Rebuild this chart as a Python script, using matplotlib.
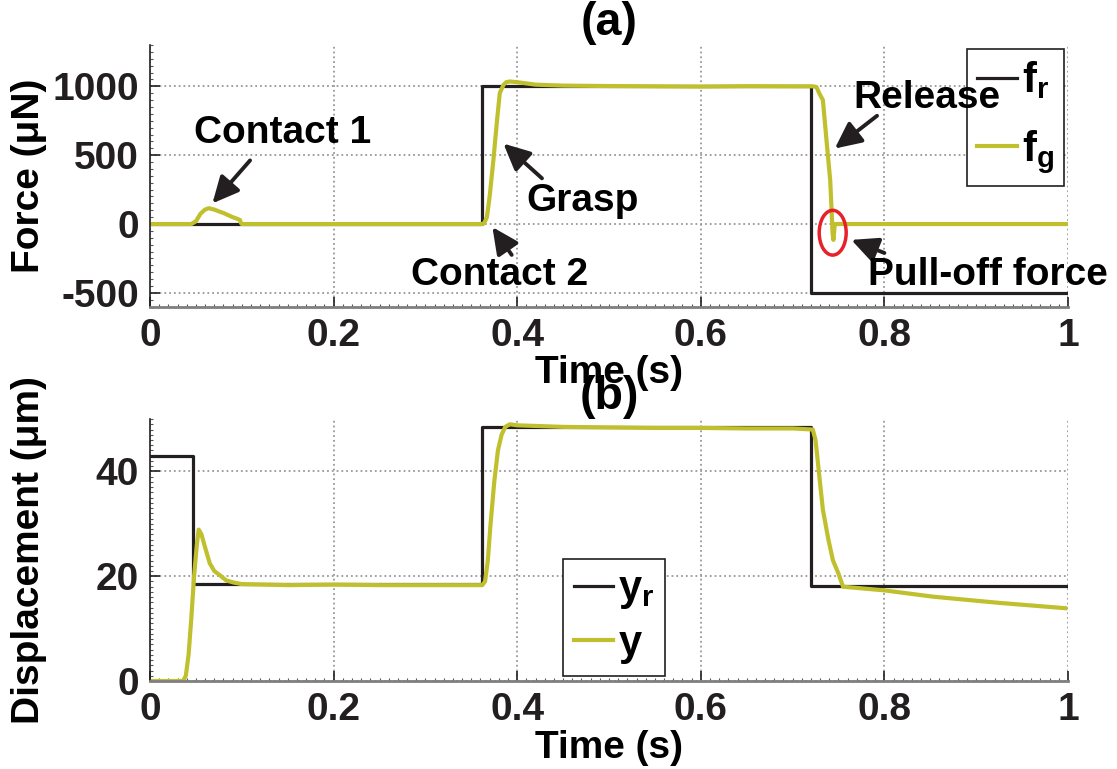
import matplotlib
matplotlib.use('Agg')
import matplotlib.pyplot as plt
from matplotlib.ticker import MultipleLocator
from matplotlib.patches import Ellipse

plt.rcParams['font.family'] = ['Liberation Sans', 'DejaVu Sans']
plt.rcParams['font.weight'] = 'bold'
plt.rcParams['axes.labelweight'] = 'bold'
plt.rcParams['axes.titleweight'] = 'bold'
plt.rcParams['font.size'] = 28
plt.rcParams['axes.unicode_minus'] = False
plt.rcParams['mathtext.fontset'] = 'custom'
plt.rcParams['mathtext.rm'] = 'Liberation Sans:bold'
plt.rcParams['mathtext.bf'] = 'Liberation Sans:bold'
plt.rcParams['mathtext.it'] = 'Liberation Sans:bold'

# (a) force: reference f_r and measured f_g
fr_t = [0, 0.05, 0.05, 0.1, 0.1, 0.362, 0.362, 0.72, 0.72, 1.0]
fr = [0, 0, 0, 0, 0, 0, 1000, 1000, -500, -500]

fg_t = [0, 0.045, 0.05, 0.055, 0.06, 0.064, 0.07, 0.075, 0.08, 0.085, 0.09, 0.095,
        0.098, 0.099, 0.1, 0.362, 0.364, 0.367, 0.370, 0.374, 0.378, 0.381, 0.385,
        0.388, 0.392, 0.40, 0.42, 0.45, 0.5, 0.55, 0.6, 0.65, 0.7, 0.722, 0.726,
        0.729, 0.733, 0.737, 0.741, 0.7425, 0.7435, 0.7445, 0.746, 1.0]
fg = [0, 0, 20, 75, 105, 115, 105, 92, 80, 65, 50, 38,
      29, 8, 0, 0, 5, 50, 200, 460, 750, 950, 1010,
      1030, 1035, 1030, 1012, 1005, 1002, 1000, 998, 1001, 1000, 1000, 995,
      950, 900, 605, 317, 100, -60, -115, 0, 0]

# (b) displacement: reference y_r and measured y
yr_t = [0, 0.047, 0.047, 0.362, 0.362, 0.72, 0.72, 1.0]
yr = [43, 43, 18.5, 18.5, 48.5, 48.5, 18.2, 18.2]

y_t = [0, 0.036, 0.039, 0.042, 0.045, 0.048, 0.051, 0.053, 0.056, 0.06, 0.065,
       0.07, 0.076, 0.083, 0.091, 0.1, 0.15, 0.2, 0.25, 0.3, 0.362, 0.365, 0.368,
       0.371, 0.375, 0.379, 0.383, 0.387, 0.392, 0.40, 0.45, 0.5, 0.55, 0.6, 0.65,
       0.7, 0.722, 0.725, 0.728, 0.733, 0.739, 0.744, 0.75, 0.755, 0.8, 0.853,
       0.926, 0.997]
y = [0, 0, 1, 5, 12, 20, 26, 28.9, 28, 25.5, 22.5,
     21, 20.2, 19.2, 18.8, 18.5, 18.3, 18.4, 18.3, 18.3, 18.3, 19, 23,
     30, 38, 44, 47, 48.5, 49, 48.8, 48.5, 48.4, 48.3, 48.3, 48.2,
     48.2, 48, 46, 41, 32.7, 27, 23, 20.5, 18, 17.3, 16.1,
     14.9, 13.9]

# annotation texts: (label, text centre, arrow tail, arrow tip)
notes = [
    ('Contact 1', (0.145, 664), (0.109, 462), (0.068, 150)),
    ('Grasp', (0.471, 166), (0.427, 332), (0.385, 584)),
    ('Contact 2', (0.381, -368), (0.394, -224), (0.373, -22)),
    ('Release', (0.846, 916), (0.792, 786), (0.746, 548)),
    ('Pull-off force', (0.913, -368), (0.80, -210), (0.764, -115)),
]

black = '#231f20'
yellow = '#c0c02e'

fig = plt.figure(figsize=(11.17, 7.69), dpi=100)
ax1 = fig.add_axes([0.1343, 0.6012, 0.8218, 0.3403])
ax2 = fig.add_axes([0.1343, 0.1144, 0.8218, 0.3407])


def style(ax):
    for s in ['top', 'right']:
        ax.spines[s].set_visible(False)
    ax.spines['left'].set_color(black)
    ax.spines['left'].set_linewidth(1.2)
    ax.spines['bottom'].set_color('#7f7f7f')
    ax.spines['bottom'].set_linewidth(2)
    ax.grid(True, which='major', linestyle=':', color='#999999', linewidth=1.3)
    ax.tick_params(which='major', direction='in', length=7, width=1.2, pad=8, colors=black)
    ax.tick_params(which='minor', direction='in', length=2.5, width=0.8, colors='#555555')
    ax.set_xlim(0, 1)
    ax.set_xticks([0, 0.2, 0.4, 0.6, 0.8, 1])
    ax.set_xticklabels(['0', '0.2', '0.4', '0.6', '0.8', '1'])
    ax.xaxis.set_minor_locator(MultipleLocator(0.01))
    ax.set_xlabel('Time (s)', labelpad=1)


def legend(ax, spacing, **kw):
    leg = ax.legend(fancybox=False, edgecolor=black, handlelength=0.95, handletextpad=0.12,
                    labelspacing=spacing, borderpad=0.25, borderaxespad=0, fontsize=30,
                    framealpha=1, **kw)
    leg.get_frame().set_linewidth(1.2)
    leg.set_zorder(2)
    return leg


# top panel
ax1.plot(fr_t, fr, color=black, lw=2.3, label=r'$\mathregular{f_r}$')
ax1.plot(fg_t, fg, color=yellow, lw=3, label=r'$\mathregular{f_g}$')
style(ax1)
ax1.set_ylim(-600, 1300)
ax1.set_yticks([-500, 0, 500, 1000])
ax1.yaxis.set_minor_locator(MultipleLocator(50))
ax1.set_ylabel('Force (μN)')
ax1.yaxis.set_label_coords(-0.112, 0.5)
ax1.set_title('(a)', pad=6)
legend(ax1, 0.65, loc='upper right', bbox_to_anchor=(0.996, 0.985))

arrow = dict(arrowstyle='-|>,head_length=0.5,head_width=0.24', color=black, lw=2.8,
             mutation_scale=32, shrinkA=0, shrinkB=0)
for label, txt, tail, tip in notes:
    ax1.annotate('', xy=tip, xytext=tail, arrowprops=arrow, zorder=9)
    ax1.text(txt[0], txt[1], label, ha='center', va='center', zorder=10)
ax1.add_patch(Ellipse((0.7437, -63), 0.0294, 325, fill=False, edgecolor='#e8202a', lw=2.5, zorder=6))

# bottom panel
ax2.plot(yr_t, yr, color=black, lw=2.3, label=r'$\mathregular{y_r}$')
ax2.plot(y_t, y, color=yellow, lw=3, label=r'$\mathregular{y}$')
style(ax2)
ax2.set_ylim(0, 50)
ax2.set_yticks([0, 20, 40])
ax2.yaxis.set_minor_locator(MultipleLocator(1))
ax2.set_ylabel('Displacement (μm)')
ax2.yaxis.set_label_coords(-0.112, 0.5)
ax2.set_title('(b)', pad=0)
legend(ax2, 0.3, loc='upper left', bbox_to_anchor=(0.45, 0.466))

fig.savefig('out.png', dpi=100)
